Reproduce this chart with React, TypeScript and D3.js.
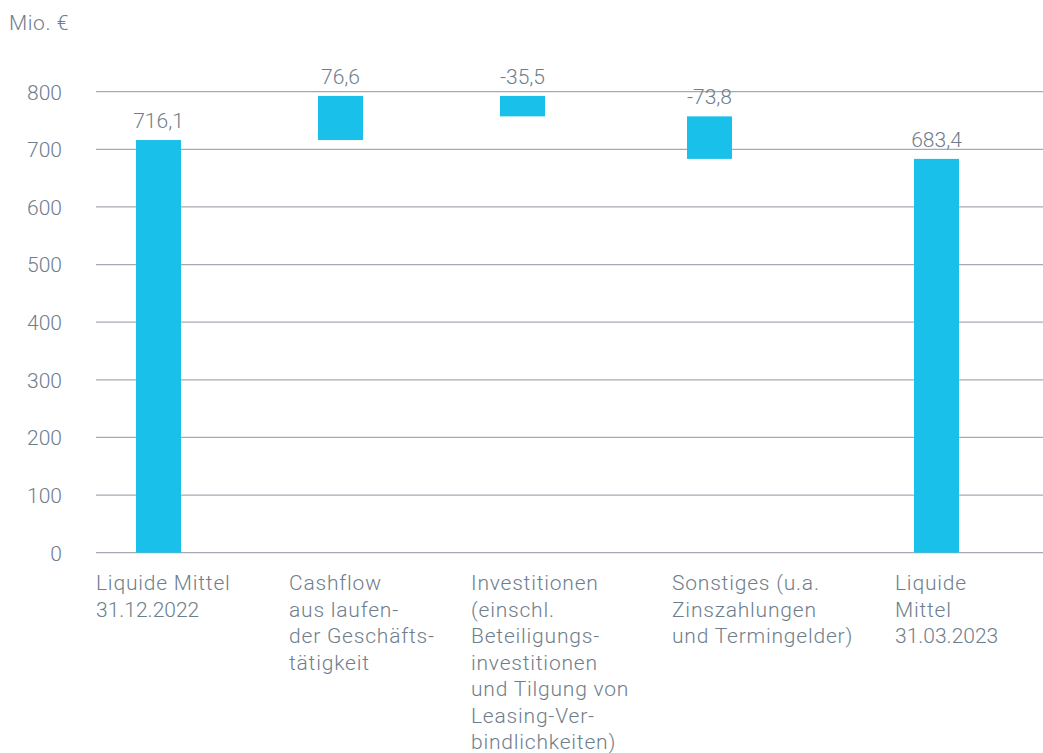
import React from "react";
import * as d3 from "d3";

const categories: string[][] = [
  ["Liquide Mittel", "31.12.2022"],
  ["Cashflow", "aus laufen-", "der Geschäfts-", "tätigkeit"],
  ["Investitionen", "(einschl.", "Beteiligungs-", "investitionen", "und Tilgung von", "Leasing-Ver-", "bindlichkeiten)"],
  ["Sonstiges (u.a.", "Zinszahlungen", "und Termingelder)"],
  ["Liquide", "Mittel", "31.03.2023"],
];
const values: number[] = [716.1, 76.6, -35.5, -73.8, 683.4];
const isTotal: boolean[] = [true, false, false, false, true];
const valueLabels: string[] = ["716,1", "76,6", "-35,5", "-73,8", "683,4"];
const yTicks: number[] = [0, 100, 200, 300, 400, 500, 600, 700, 800];

const W = 1043;
const H = 753;
const BAR_COLOR = "#18c0ea";
const TEXT_COLOR = "#6e7e8c";
const GRID_COLOR = "#a8a9b3";
const FONT = "Roboto, 'Open Sans', sans-serif";
const FS = 21;

export default function App() {
  const y = d3.scaleLinear().domain([0, 800]).range([552.7, 91.7]);
  const keys = categories.map((_, i) => String(i));
  // slot centres of the bars and left edges of the category texts
  const xBar = d3.scaleOrdinal<string, number>().domain(keys).range([158.5, 340.5, 522.5, 709.5, 936.5]);
  const xLabel = d3.scaleOrdinal<string, number>().domain(keys).range([96, 289, 471, 672, 895]);
  const barW = 45;

  let running = 0;
  const bars = values.map((v, i) => {
    let y0: number, y1: number;
    if (isTotal[i]) {
      y0 = 0;
      y1 = v;
      running = v;
    } else {
      y0 = running;
      y1 = running + v;
      running = y1;
    }
    return { i, lo: Math.min(y0, y1), hi: Math.max(y0, y1) };
  });

  return (
    <svg width={W} height={H} style={{ position: "absolute", left: 0, top: 0, background: "#fff" }} fontFamily={FONT}>
      <text x={9} y={30} fontSize={FS} fill={TEXT_COLOR} fontWeight={300} letterSpacing={0.6}>Mio. €</text>
      {yTicks.map((t) => (
        <g key={t}>
          <line x1={96} x2={W} y1={y(t)} y2={y(t)} stroke={GRID_COLOR} strokeWidth={1.3} />
          <text x={62} y={y(t) + 7.8} textAnchor="end" fontSize={FS} fill={TEXT_COLOR} fontWeight={300}>{t}</text>
        </g>
      ))}
      {bars.map((b) => (
        <g key={b.i}>
          <rect x={xBar(String(b.i)) - barW / 2} y={y(b.hi)} width={barW} height={y(b.lo) - y(b.hi)} fill={BAR_COLOR} />
          <text x={xBar(String(b.i))} y={y(b.hi) - 12} textAnchor="middle" fontSize={FS} fill={TEXT_COLOR} fontWeight={300}>
            {valueLabels[b.i]}
          </text>
        </g>
      ))}
      {categories.map((lines, i) => (
        <text key={i} x={xLabel(String(i))} y={590} fontSize={FS} fill={TEXT_COLOR} fontWeight={300}>
          {lines.map((l, j) => (
            <tspan
              key={j}
              x={xLabel(String(i))}
              dy={j === 0 ? 0 : 26.5}
              letterSpacing={/[A-Za-zäö]/.test(l) ? 0.8 : 0}
            >
              {l}
            </tspan>
          ))}
        </text>
      ))}
    </svg>
  );
}
